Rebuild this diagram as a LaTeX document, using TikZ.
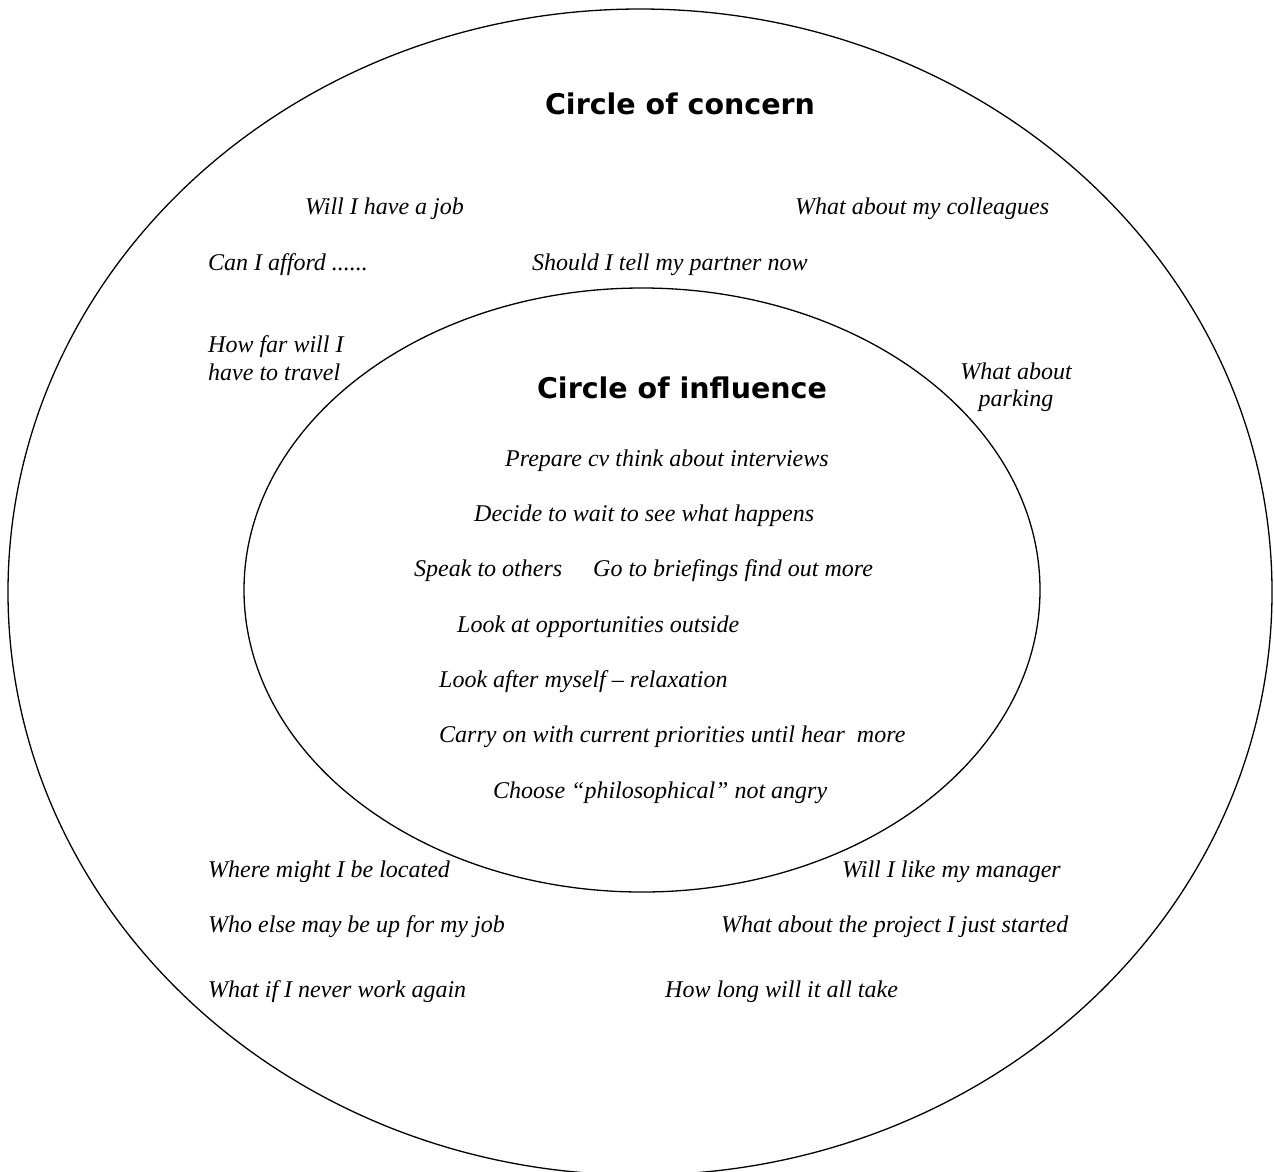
\documentclass[tikz,border=0pt]{standalone}
\usepackage{fontspec}
\setmainfont{Liberation Serif}
\newfontfamily\titlefont{DejaVu Sans}
\begin{document}
\begin{tikzpicture}[x=1pt,y=-1pt,
  lbl/.style={anchor=base west,inner sep=0pt,font=\fontsize{24}{28}\selectfont\itshape},
  ttl/.style={anchor=center,inner sep=0pt,font=\fontsize{28.5}{32}\selectfont\titlefont\bfseries},
  ring/.style={draw=black,line width=1.3pt}]
\useasboundingbox[fill=white] (0,0) rectangle (1274,1171);
\begin{scope}
\clip (0,0) rectangle (1274,1171);
\draw[ring] (640,592) ellipse [x radius=632, y radius=583];
\end{scope}
\draw[ring] (642,590) ellipse [x radius=398, y radius=302];
\node[ttl] (t1) at (680,104) {Circle of concern};
\node[ttl] (t2) at (682,388) {Circle of influence};
\node[lbl] (a1) at (305,214) {Will I have a job};
\node[lbl] (a2) at (795,214) {What about my colleagues};
\node[lbl] (a3) at (208,270) {Can I afford ......};
\node[lbl] (a4) at (532,270) {Should I tell my partner now};
\node[lbl,align=left] (a5) at (208,380) {How far will I\\have to travel};
\node[anchor=base,inner sep=0pt,font=\fontsize{24}{27}\selectfont\itshape,align=center] (a6) at (1016,406) {What about\\parking};
\node[lbl] (b1) at (505,466) {Prepare cv think about interviews};
\node[lbl] (b2) at (474,521) {Decide to wait to see what happens};
\node[lbl] (b3) at (414,576) {Speak to others};
\node[lbl] (b4) at (593,576) {Go to briefings find out more};
\node[lbl] (b5) at (457,632) {Look at opportunities outside};
\node[lbl] (b6) at (439,687) {Look after myself – relaxation};
\node[lbl] (b7) at (439,742) {Carry on with current priorities until hear\ \ more};
\node[lbl] (b8) at (493,798) {Choose “philosophical” not angry};
\node[lbl] (c1) at (208,877) {Where might I be located};
\node[lbl] (c2) at (842,877) {Will I like my manager};
\node[lbl] (c3) at (208,932) {Who else may be up for my job};
\node[lbl] (c4) at (721,932) {What about the project I just started};
\node[lbl] (c5) at (208,997) {What if I never work again};
\node[lbl] (c6) at (665,997) {How long will it all take};
\end{tikzpicture}
\end{document}
